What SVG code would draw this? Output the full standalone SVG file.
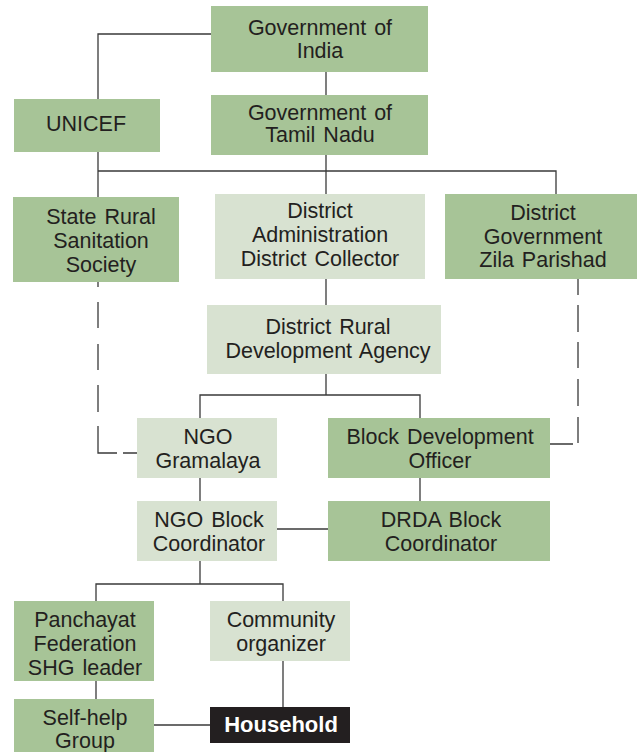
<svg xmlns="http://www.w3.org/2000/svg" width="637" height="752" viewBox="0 0 637 752">
<style>
.dk{fill:#a7c497}
.lt{fill:#d8e2d1}
.hh{fill:#231f20}
text{font-family:"Liberation Sans","Arial",sans-serif;font-size:21.5px;fill:#231f20;text-anchor:middle;word-spacing:2px}
.w{fill:#ffffff;font-weight:bold;font-size:22px;word-spacing:0}
.c{fill:none;stroke:#3a3a3a;stroke-width:1.3}
</style>
<rect width="637" height="752" fill="#ffffff"/>
<g id="connectors">
<path class="c" d="M211 34 H98 V99"/>
<path class="c" d="M326 72 V95"/>
<path class="c" d="M326 155 V194"/>
<path class="c" d="M98 152 V197"/>
<path class="c" d="M98 171 H556 V194"/>
<path class="c" d="M326 279 V305"/>
<path class="c" d="M326 374 V395"/>
<path class="c" d="M200 418 V395 H420 V418"/>
<path class="c" d="M98 282 V453 H137" stroke-dasharray="5 15 26 16 26 15 27 14 46 6 14"/>
<path class="c" d="M578 279 V444 H550" stroke-dasharray="16 10 27 10 26 11 27 11 26 6 23"/>
<path class="c" d="M200 478 V501"/>
<path class="c" d="M420 478 V501"/>
<path class="c" d="M277 529 H328"/>
<path class="c" d="M200 561 V584"/>
<path class="c" d="M96 601 V584 H283 V601"/>
<path class="c" d="M96 681 V699"/>
<path class="c" d="M283 661 V707"/>
<path class="c" d="M154 725 H210"/>
</g>
<g id="gov-india"><rect class="dk" x="211" y="6" width="217" height="66"/><text x="320" y="34.5">Government of</text><text x="320" y="58">India</text></g>
<g id="unicef"><rect class="dk" x="14" y="99" width="146" height="53"/><text x="86" y="131">UNICEF</text></g>
<g id="gov-tn"><rect class="dk" x="211" y="95" width="217" height="60"/><text x="320" y="119.5">Government of</text><text x="320" y="142">Tamil Nadu</text></g>
<g id="srss"><rect class="dk" x="13" y="197" width="166" height="85"/><text x="101" y="224">State Rural</text><text x="101" y="248">Sanitation</text><text x="101" y="272">Society</text></g>
<g id="dist-admin"><rect class="lt" x="215" y="194" width="210" height="85"/><text x="320" y="218">District</text><text x="320" y="241.5">Administration</text><text x="320" y="265.5">District Collector</text></g>
<g id="dist-gov"><rect class="dk" x="445" y="194" width="192" height="85"/><text x="543" y="220">District</text><text x="543" y="243.5">Government</text><text x="543" y="267">Zila Parishad</text></g>
<g id="drda"><rect class="lt" x="207" y="305" width="234" height="69"/><text x="328" y="334">District Rural</text><text x="328" y="358">Development Agency</text></g>
<g id="ngo-gramalaya"><rect class="lt" x="137" y="418" width="140" height="60"/><text x="208" y="444">NGO</text><text x="208" y="468">Gramalaya</text></g>
<g id="bdo"><rect class="dk" x="328" y="418" width="222" height="60"/><text x="440" y="444">Block Development</text><text x="440" y="468">Officer</text></g>
<g id="ngo-block"><rect class="lt" x="137" y="501" width="140" height="60"/><text x="209" y="527">NGO Block</text><text x="209" y="551">Coordinator</text></g>
<g id="drda-block"><rect class="dk" x="328" y="501" width="222" height="60"/><text x="441" y="527">DRDA Block</text><text x="441" y="551">Coordinator</text></g>
<g id="panchayat"><rect class="dk" x="14" y="601" width="140" height="80"/><text x="85" y="627">Panchayat</text><text x="85" y="651">Federation</text><text x="85" y="675">SHG leader</text></g>
<g id="community"><rect class="lt" x="210" y="601" width="140" height="60"/><text x="281" y="627">Community</text><text x="281" y="651">organizer</text></g>
<g id="shg"><rect class="dk" x="14" y="699" width="140" height="53"/><text x="85" y="725">Self-help</text><text x="85" y="748">Group</text></g>
<g id="household"><rect class="hh" x="210" y="707" width="140" height="36"/><text class="w" x="281" y="732">Household</text></g>
</svg>
